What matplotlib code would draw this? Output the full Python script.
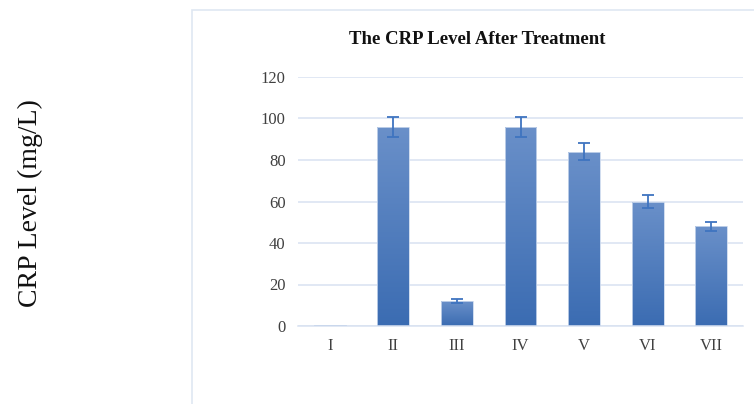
import numpy as np
import matplotlib
matplotlib.use("Agg")
import matplotlib.pyplot as plt
from matplotlib.patches import Rectangle

groups = ["I", "II", "III", "IV", "V", "VI", "VII"]
crp = [0.3, 96, 12, 96, 84, 60, 48]
crp_err = [0.0, 4.8, 0.8, 4.8, 4.0, 3.0, 2.3]

plt.rcParams['font.family'] = ['Liberation Serif', 'DejaVu Serif']

fig = plt.figure(figsize=(7.54, 4.04), dpi=100)

# light frame of the chart box
fig.patches.append(Rectangle((192 / 754, -0.01), 0.99, 1 - 10 / 404 + 0.01,
                             transform=fig.transFigure, fill=False,
                             edgecolor='#dfe7f2', linewidth=1.2))

ax = fig.add_axes([298 / 754, 1 - 326 / 404, (743 - 298) / 754, (326 - 77) / 404])
x = np.arange(len(groups))
bars = ax.bar(x, crp, width=0.5, color='none', edgecolor='#c9d7ec', linewidth=0.6, zorder=3)

# vertical gradient inside every bar
grad = np.linspace(0, 1, 256).reshape(-1, 1)
cmap = matplotlib.colors.LinearSegmentedColormap.from_list('b', ['#3b6cb2', '#6a90c9'])
for b, v in zip(bars, crp):
    if v < 1:
        b.set_facecolor('#c5d3ea')
        continue
    x0, w, h = b.get_x(), b.get_width(), b.get_height()
    im = ax.imshow(grad, extent=[x0, x0 + w, 0, h], origin='lower', cmap=cmap,
                   aspect='auto', zorder=2)
    im.set_clip_path(b)

ax.errorbar(x[1:], crp[1:], yerr=crp_err[1:], fmt='none', ecolor='#3f74c0', elinewidth=1.3,
            capsize=4, capthick=1.3, zorder=4)

ax.set_xlim(-0.5, len(groups) - 0.5)
ax.set_ylim(0, 120)
ax.set_yticks(range(0, 121, 20))
ax.set_xticks(x)
ax.set_xticklabels(groups)
ax.yaxis.grid(True, color='#d9e2f1', linewidth=1.1)
ax.set_axisbelow(True)
for s in ['top', 'right', 'left']:
    ax.spines[s].set_visible(False)
ax.spines['bottom'].set_color('#d9e2f1')
ax.spines['bottom'].set_linewidth(1.1)
ax.tick_params(length=0, labelsize=12, colors='#404040', pad=9)

fig.text(477 / 754, 1 - 39 / 404, 'The CRP Level After Treatment', ha='center', va='center',
         fontsize=13.5, fontweight='bold', color='#111111')
fig.text(30 / 754, 1 - 203 / 404, 'CRP Level (mg/L)', rotation=90, ha='center', va='center',
         fontsize=20, color='#111111')

fig.savefig('out.png', dpi=100)
